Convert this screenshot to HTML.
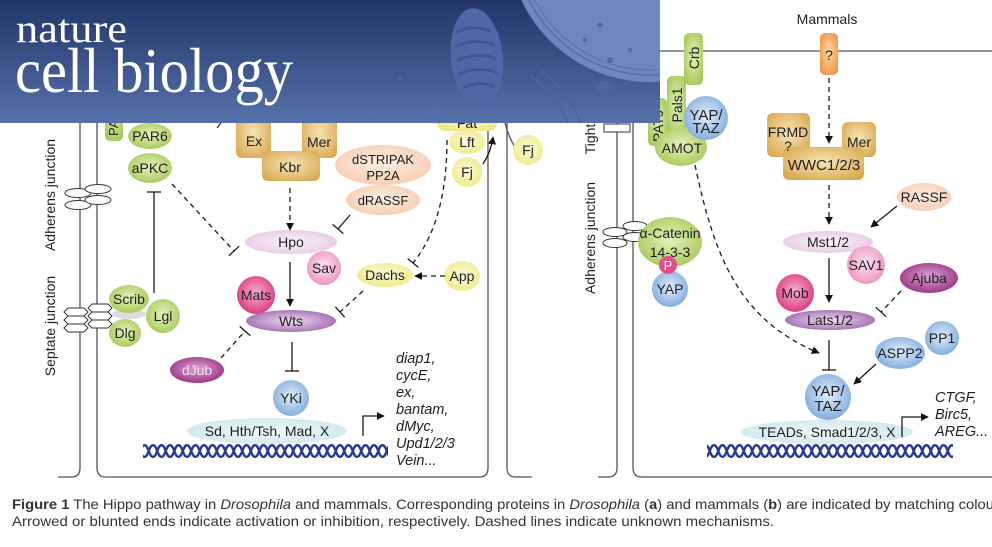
<!DOCTYPE html>
<html><head><meta charset="utf-8"><style>
html,body{margin:0;padding:0;background:#fff;}
svg{display:block;}
text{font-family:"Liberation Sans",Arial,sans-serif;fill:#1e1e1e;}
.s{font-family:"Liberation Serif","Times New Roman",serif;fill:#fff;}
.it{font-style:italic;}
</style></head><body>
<svg width="992" height="547" viewBox="0 0 992 547" xmlns="http://www.w3.org/2000/svg">
<defs>
<clipPath id="bc"><rect x="0" y="0" width="660" height="123"/></clipPath>
<linearGradient id="ban" x1="0" y1="0" x2="0" y2="1"><stop offset="0" stop-color="#213568"/><stop offset="1" stop-color="#5671aa"/></linearGradient>
<radialGradient id="gGreen" cx="50%" cy="45%" r="60%"><stop offset="0" stop-color="#e4f1bc"/><stop offset="1" stop-color="#a5c957"/></radialGradient>
<radialGradient id="gTan" cx="50%" cy="45%" r="65%"><stop offset="0" stop-color="#f7e4b6"/><stop offset="1" stop-color="#d8a94f"/></radialGradient>
<radialGradient id="gPeach" cx="50%" cy="45%" r="60%"><stop offset="0" stop-color="#fdeee4"/><stop offset="1" stop-color="#f6ccb1"/></radialGradient>
<radialGradient id="gLpink" cx="50%" cy="50%" r="60%"><stop offset="0" stop-color="#fbf3f9"/><stop offset="1" stop-color="#e6c7e2"/></radialGradient>
<radialGradient id="gPink" cx="50%" cy="45%" r="60%"><stop offset="0" stop-color="#fde6f0"/><stop offset="1" stop-color="#ea8fbd"/></radialGradient>
<radialGradient id="gMag" cx="50%" cy="45%" r="60%"><stop offset="0" stop-color="#f8b0cf"/><stop offset="1" stop-color="#d8337c"/></radialGradient>
<radialGradient id="gPurple" cx="50%" cy="50%" r="60%"><stop offset="0" stop-color="#ecdfee"/><stop offset="1" stop-color="#9c5fab"/></radialGradient>
<radialGradient id="gJub" cx="50%" cy="45%" r="60%"><stop offset="0" stop-color="#dba4d1"/><stop offset="1" stop-color="#992d83"/></radialGradient>
<radialGradient id="gYellow" cx="50%" cy="45%" r="60%"><stop offset="0" stop-color="#fbfbdc"/><stop offset="1" stop-color="#efe985"/></radialGradient>
<radialGradient id="gBlue" cx="50%" cy="45%" r="60%"><stop offset="0" stop-color="#e3eefa"/><stop offset="1" stop-color="#7ba8db"/></radialGradient>
<radialGradient id="gCyan" cx="50%" cy="50%" r="60%"><stop offset="0" stop-color="#f0f9f9"/><stop offset="1" stop-color="#cce7ec"/></radialGradient>
<radialGradient id="gOrange" cx="50%" cy="45%" r="60%"><stop offset="0" stop-color="#fcd6ab"/><stop offset="1" stop-color="#f09845"/></radialGradient>
<marker id="ah" viewBox="0 0 10 10" refX="9" refY="5" markerWidth="8" markerHeight="8" markerUnits="userSpaceOnUse" orient="auto"><path d="M0,0 L10,5 L0,10 z" fill="#111"/></marker>
<pattern id="dna" patternUnits="userSpaceOnUse" x="0" y="443" width="17" height="16">
 <path d="M0,2.2 C4.25,2.2 4.25,13.8 8.5,13.8 C12.75,13.8 12.75,2.2 17,2.2" fill="none" stroke="#2b3892" stroke-width="2.4"/>
 <path d="M0,13.8 C4.25,13.8 4.25,2.2 8.5,2.2 C12.75,2.2 12.75,13.8 17,13.8" fill="none" stroke="#2b3892" stroke-width="2.4"/>
</pattern>
</defs>

<rect x="0" y="0" width="992" height="547" fill="#fff"/>

<!-- cell membranes -->
<g fill="none" stroke="#555" stroke-width="1.3">
<path d="M80,100 V468 Q80,477 71,477 H58"/>
<path d="M97,100 V468 Q97,477 106,477 H479 Q488,477 488,468 V100"/>
<path d="M507,100 V468 Q507,477 516,477 H532"/>
<path d="M505,123 Q509,138 515,147"/>
<path d="M617,100 V468 Q617,477 608,477 H598"/>
<path d="M633,100 V468 Q633,477 642,477 H992"/>
<path d="M633,60 Q633,51 642,51 H992"/>
</g>
<line x1="224" y1="119" x2="217" y2="128" stroke="#222" stroke-width="1.2"/>

<!-- junction labels -->
<text transform="translate(55,195) rotate(-90)" font-size="14" text-anchor="middle">Adherens junction</text>
<text transform="translate(55,326) rotate(-90)" font-size="14" text-anchor="middle">Septate junction</text>
<text transform="translate(595,139) rotate(-90)" font-size="14" text-anchor="middle">Tight</text>
<text transform="translate(595,238) rotate(-90)" font-size="14" text-anchor="middle">Adherens junction</text>

<!-- adherens ellipses left -->
<g fill="#fff" stroke="#333" stroke-width="1">
<ellipse cx="78" cy="193" rx="13" ry="4.5"/>
<ellipse cx="78" cy="205" rx="13" ry="4.5"/>
<ellipse cx="98" cy="189" rx="13" ry="4.5"/>
<ellipse cx="98" cy="200" rx="13" ry="4.5"/>
</g>
<!-- septate hexagons -->
<g fill="#fff" stroke="#333" stroke-width="1">
<polygon points="64,312 68,308 84,308 88,312 84,316 68,316"/>
<polygon points="64,320 68,316 84,316 88,320 84,324 68,324"/>
<polygon points="64,328 68,324 84,324 88,328 84,332 68,332"/>
<polygon points="88,308 92,304 108,304 112,308 108,312 92,312"/>
<polygon points="88,316 92,312 108,312 112,316 108,320 92,320"/>
<polygon points="88,324 92,320 108,320 112,324 108,328 92,328"/>
</g>
<!-- right adherens + tight -->
<g fill="#fff" stroke="#333" stroke-width="1">
<ellipse cx="615" cy="232" rx="12" ry="4.5"/>
<ellipse cx="615" cy="243" rx="12" ry="4.5"/>
<ellipse cx="635" cy="226" rx="12" ry="4.5"/>
<ellipse cx="635" cy="237" rx="12" ry="4.5"/>
<rect x="604" y="124" width="26" height="8"/>
</g>

<!-- ===== LEFT PANEL NODES ===== -->
<rect x="105" y="95" width="18" height="46" rx="5" fill="url(#gGreen)"/>
<text transform="translate(118,136) rotate(-90)" font-size="13">PATJ</text>
<ellipse cx="150" cy="136" rx="22" ry="13" fill="url(#gGreen)"/>
<text x="150" y="141" font-size="14" text-anchor="middle">PAR6</text>
<ellipse cx="150" cy="168" rx="22" ry="15" fill="url(#gGreen)"/>
<text x="150" y="173" font-size="14" text-anchor="middle">aPKC</text>

<ellipse cx="129" cy="314" rx="17" ry="5" fill="#dcdcdc"/>
<ellipse cx="129" cy="299" rx="20" ry="14" fill="url(#gGreen)"/>
<text x="129" y="304" font-size="14" text-anchor="middle">Scrib</text>
<ellipse cx="125" cy="333" rx="16" ry="14" fill="url(#gGreen)"/>
<text x="125" y="338" font-size="14" text-anchor="middle">Dlg</text>
<circle cx="163" cy="316" r="17" fill="url(#gGreen)"/>
<text x="163" y="321" font-size="14" text-anchor="middle">Lgl</text>

<rect x="236" y="112" width="35" height="46" rx="6" fill="url(#gTan)"/>
<rect x="302" y="112" width="35" height="46" rx="6" fill="url(#gTan)"/>
<rect x="262" y="151" width="58" height="30" rx="6" fill="url(#gTan)"/>
<text x="254" y="146" font-size="14" text-anchor="middle">Ex</text>
<text x="319" y="147" font-size="14" text-anchor="middle">Mer</text>
<text x="290" y="172" font-size="14" text-anchor="middle">Kbr</text>

<ellipse cx="383" cy="165" rx="48" ry="20" fill="url(#gPeach)"/>
<text x="383" y="164" font-size="13" text-anchor="middle">dSTRIPAK</text>
<text x="383" y="180" font-size="13" text-anchor="middle">PP2A</text>
<ellipse cx="383" cy="200" rx="37" ry="15" fill="url(#gPeach)"/>
<text x="383" y="205" font-size="13" text-anchor="middle">dRASSF</text>

<ellipse cx="291" cy="242" rx="46" ry="12" fill="url(#gLpink)"/>
<text x="291" y="247" font-size="14" text-anchor="middle">Hpo</text>
<circle cx="324" cy="268" r="17" fill="url(#gPink)"/>
<text x="324" y="273" font-size="14" text-anchor="middle">Sav</text>
<circle cx="256" cy="295" r="19" fill="url(#gMag)"/>
<text x="256" y="300" font-size="14" text-anchor="middle">Mats</text>
<ellipse cx="291" cy="321" rx="45" ry="11" fill="url(#gPurple)"/>
<text x="291" y="326" font-size="14" text-anchor="middle">Wts</text>

<ellipse cx="385" cy="275" rx="28" ry="12" fill="url(#gYellow)"/>
<text x="385" y="280" font-size="14" text-anchor="middle">Dachs</text>
<ellipse cx="462" cy="276" rx="18" ry="15" fill="url(#gYellow)"/>
<text x="462" y="281" font-size="14" text-anchor="middle">App</text>
<rect x="437" y="100" width="60" height="31" rx="8" fill="url(#gYellow)"/>
<text x="467" y="128" font-size="14" text-anchor="middle">Fat</text>
<ellipse cx="467" cy="142" rx="18" ry="12" fill="url(#gYellow)"/>
<text x="467" y="147" font-size="14" text-anchor="middle">Lft</text>
<circle cx="467" cy="172" r="15" fill="url(#gYellow)"/>
<text x="467" y="177" font-size="14" text-anchor="middle">Fj</text>
<circle cx="528" cy="150" r="15" fill="url(#gYellow)"/>
<text x="528" y="155" font-size="14" text-anchor="middle">Fj</text>

<ellipse cx="197" cy="370" rx="27" ry="13" fill="url(#gJub)"/>
<text x="197" y="375" font-size="14" text-anchor="middle" style="fill:#f3dff0">dJub</text>
<circle cx="291" cy="398" r="18" fill="url(#gBlue)"/>
<text x="291" y="403" font-size="14" text-anchor="middle">YKi</text>
<ellipse cx="267" cy="431" rx="80" ry="13" fill="url(#gCyan)"/>
<text x="267" y="436" font-size="14" text-anchor="middle">Sd, Hth/Tsh, Mad, X</text>
<rect x="143" y="443" width="245" height="16" fill="url(#dna)"/>

<g font-size="14.5" class="it">
<text x="396" y="363" class="it">diap1,</text>
<text x="396" y="380" class="it">cycE,</text>
<text x="396" y="397" class="it">ex,</text>
<text x="396" y="414" class="it">bantam,</text>
<text x="396" y="431" class="it">dMyc,</text>
<text x="396" y="448" class="it">Upd1/2/3</text>
<text x="396" y="465" class="it">Vein...</text>
</g>

<!-- left connectors -->
<g fill="none" stroke="#1a1a1a" stroke-width="1.3">
<line x1="172" y1="184" x2="234" y2="251" stroke-dasharray="5,4"/>
<line x1="228.9" y1="255.8" x2="239.1" y2="246.2"/>
<line x1="154" y1="293" x2="154" y2="192"/>
<line x1="147" y1="192" x2="161" y2="192"/>
<line x1="290" y1="188" x2="290" y2="230" stroke-dasharray="5,4" marker-end="url(#ah)"/>
<line x1="350" y1="215" x2="338" y2="229"/>
<line x1="332.7" y1="224.4" x2="343.3" y2="233.6"/>
<line x1="290" y1="262" x2="290" y2="306" marker-end="url(#ah)"/>
<path d="M447,140 C447,182 440,230 413,263" stroke-dasharray="5,4"/>
<line x1="407.6" y1="258.6" x2="418.4" y2="267.4"/>
<line x1="445" y1="276" x2="415" y2="276" stroke-dasharray="5,4" marker-end="url(#ah)"/>
<line x1="363" y1="291" x2="340" y2="312" stroke-dasharray="5,4"/>
<line x1="335.3" y1="306.8" x2="344.7" y2="317.2"/>
<line x1="221" y1="358" x2="245" y2="331" stroke-dasharray="5,4"/>
<line x1="239.7" y1="326.4" x2="250.3" y2="335.6"/>
<line x1="292" y1="342" x2="292" y2="371"/>
<line x1="285" y1="371" x2="299" y2="371"/>
<path d="M483,164 Q491,152 493,137" marker-end="url(#ah)"/>
<path d="M363,436 V416 H384" marker-end="url(#ah)"/>
</g>

<!-- ===== RIGHT PANEL ===== -->
<text x="827" y="24" font-size="14" text-anchor="middle">Mammals</text>
<rect x="820" y="33" width="18" height="42" rx="5" fill="url(#gOrange)"/>
<text x="829" y="60" font-size="14" text-anchor="middle">?</text>

<rect x="684" y="33" width="19" height="52" rx="5" fill="url(#gGreen)"/>
<text transform="translate(699,58) rotate(-90)" font-size="14" text-anchor="middle">Crb</text>
<rect x="667" y="76" width="19" height="66" rx="5" fill="url(#gGreen)"/>
<text transform="translate(682,105) rotate(-90)" font-size="14" text-anchor="middle">Pals1</text>
<rect x="648" y="98" width="19" height="48" rx="5" fill="url(#gGreen)"/>
<text transform="translate(663,142) rotate(-90)" font-size="14">PATJ</text>
<ellipse cx="681" cy="147" rx="26" ry="19" fill="url(#gGreen)"/>
<circle cx="706" cy="118" r="22" fill="url(#gBlue)"/>
<text x="706" y="120" font-size="15" text-anchor="middle">YAP/</text>
<text x="706" y="133" font-size="15" text-anchor="middle">TAZ</text>
<text x="682" y="153" font-size="14" text-anchor="middle">AMOT</text>

<rect x="767" y="113" width="43" height="44" rx="6" fill="url(#gTan)"/>
<rect x="842" y="122" width="34" height="35" rx="6" fill="url(#gTan)"/>
<rect x="783" y="147" width="81" height="33" rx="6" fill="url(#gTan)"/>
<text x="788" y="137" font-size="14" text-anchor="middle">FRMD</text>
<text x="788" y="151" font-size="14" text-anchor="middle">?</text>
<text x="859" y="147" font-size="14" text-anchor="middle">Mer</text>
<text x="824" y="170" font-size="15" text-anchor="middle">WWC1/2/3</text>

<ellipse cx="924" cy="197" rx="27" ry="14" fill="url(#gPeach)"/>
<text x="924" y="202" font-size="14" text-anchor="middle">RASSF</text>

<ellipse cx="670" cy="242" rx="32" ry="25" fill="url(#gGreen)"/>
<text x="670" y="238" font-size="14" text-anchor="middle">α-Catenin</text>
<text x="670" y="257" font-size="14" text-anchor="middle">14-3-3</text>
<circle cx="670" cy="289" r="18" fill="url(#gBlue)"/>
<text x="670" y="294" font-size="14" text-anchor="middle">YAP</text>
<circle cx="668" cy="265" r="9" fill="#e44f8a"/>
<text x="668" y="270" font-size="13" text-anchor="middle" style="fill:#fff">P</text>

<ellipse cx="828" cy="242" rx="45" ry="11" fill="url(#gLpink)"/>
<text x="828" y="247" font-size="14" text-anchor="middle">Mst1/2</text>
<circle cx="866" cy="265" r="19" fill="url(#gPink)"/>
<text x="866" y="270" font-size="14" text-anchor="middle">SAV1</text>
<ellipse cx="929" cy="278" rx="29" ry="15" fill="url(#gJub)"/>
<text x="929" y="283" font-size="14" text-anchor="middle">Ajuba</text>
<circle cx="795" cy="293" r="19" fill="url(#gMag)"/>
<text x="795" y="298" font-size="14" text-anchor="middle">Mob</text>
<ellipse cx="830" cy="320" rx="45" ry="10" fill="url(#gPurple)"/>
<text x="830" y="325" font-size="14" text-anchor="middle">Lats1/2</text>
<circle cx="942" cy="338" r="17" fill="url(#gBlue)"/>
<text x="942" y="343" font-size="14" text-anchor="middle">PP1</text>
<ellipse cx="900" cy="353" rx="25" ry="16" fill="url(#gBlue)"/>
<text x="900" y="358" font-size="14" text-anchor="middle">ASPP2</text>
<circle cx="828" cy="397" r="23" fill="url(#gBlue)"/>
<text x="828" y="396" font-size="15" text-anchor="middle">YAP/</text>
<text x="828" y="411" font-size="15" text-anchor="middle">TAZ</text>
<ellipse cx="827" cy="432" rx="86" ry="12" fill="url(#gCyan)"/>
<text x="827" y="437" font-size="14" text-anchor="middle">TEADs, Smad1/2/3, X</text>
<rect x="707" y="443" width="246" height="16" fill="url(#dna)"/>
<text x="935" y="402" font-size="14.5" class="it">CTGF,</text>
<text x="935" y="419" font-size="14.5" class="it">Birc5,</text>
<text x="935" y="436" font-size="14.5" class="it">AREG...</text>

<!-- right connectors -->
<g fill="none" stroke="#1a1a1a" stroke-width="1.3">
<line x1="829" y1="78" x2="829" y2="143" stroke-dasharray="5,4" marker-end="url(#ah)"/>
<line x1="829" y1="185" x2="829" y2="224" stroke-dasharray="5,4" marker-end="url(#ah)"/>
<line x1="897" y1="206" x2="871" y2="227" marker-end="url(#ah)"/>
<line x1="829" y1="258" x2="829" y2="302" marker-end="url(#ah)"/>
<line x1="901" y1="291" x2="881" y2="312" stroke-dasharray="5,4"/>
<line x1="875.8" y1="307.3" x2="886.2" y2="316.7"/>
<line x1="829" y1="340" x2="829" y2="370"/>
<line x1="822" y1="370" x2="836" y2="370"/>
<line x1="876" y1="364" x2="854" y2="384" marker-end="url(#ah)"/>
<path d="M695,165 C715,260 740,320 819,353" stroke-dasharray="5,4" marker-end="url(#ah)"/>
<path d="M902,437 V417 H928" marker-end="url(#ah)"/>
</g>

<!-- ===== BANNER ===== -->
<rect x="0" y="0" width="660" height="123" fill="url(#ban)"/>
<g clip-path="url(#bc)">
<circle cx="650" cy="-60" r="142" fill="#6d87c1"/>
<circle cx="650" cy="-60" r="135" fill="none" stroke="#506ba8" stroke-width="1.2"/>
<circle cx="650" cy="-60" r="130" fill="none" stroke="#506ba8" stroke-width="0.8"/>
<circle cx="610" cy="60" r="3" fill="#4f69a5"/>
<circle cx="585" cy="40" r="2" fill="#4f69a5"/>
<circle cx="600" cy="25" r="2.5" fill="#4f69a5"/>
<circle cx="630" cy="50" r="2" fill="#4f69a5"/>
<circle cx="603" cy="88" r="7" fill="#4c66a3"/>
<circle cx="400" cy="78" r="3" fill="#4862a0"/>
<circle cx="434" cy="113" r="4" fill="#5470ab"/>
<circle cx="372" cy="115" r="4" fill="#5470ab"/>
<g transform="rotate(-6 477 58)">
<ellipse cx="477" cy="58" rx="26" ry="50" fill="#4d68a4"/>
<g fill="none" stroke="#3f5894" stroke-width="3" stroke-linecap="round">
<path d="M460,30 Q476,24 492,32"/>
<path d="M458,44 Q476,38 494,46"/>
<path d="M458,58 Q476,52 495,60"/>
<path d="M458,72 Q476,66 494,74"/>
<path d="M461,86 Q476,80 491,88"/>
</g>
</g>
<path d="M530,75 Q560,100 568,123" fill="none" stroke="#4a64a0" stroke-width="2"/>
<path d="M540,70 Q572,95 580,123" fill="none" stroke="#4a64a0" stroke-width="2"/>
</g>
<text x="16" y="42" class="s" font-size="40" textLength="111" lengthAdjust="spacingAndGlyphs">nature</text>
<text x="15" y="92" class="s" font-size="63" textLength="278" lengthAdjust="spacingAndGlyphs">cell biology</text>

<!-- ===== CAPTION ===== -->
<text x="12" y="509" font-size="14" style="fill:#333" textLength="982" lengthAdjust="spacingAndGlyphs"><tspan font-weight="bold" style="fill:#333">Figure 1</tspan> The Hippo pathway in <tspan font-style="italic" style="fill:#333">Drosophila</tspan> and mammals. Corresponding proteins in <tspan font-style="italic" style="fill:#333">Drosophila</tspan> (<tspan font-weight="bold" style="fill:#333">a</tspan>) and mammals (<tspan font-weight="bold" style="fill:#333">b</tspan>) are indicated by matching colou</text>
<text x="12" y="526" font-size="14" style="fill:#333" textLength="762" lengthAdjust="spacingAndGlyphs">Arrowed or blunted ends indicate activation or inhibition, respectively. Dashed lines indicate unknown mechanisms.</text>
</svg>
</body></html>
